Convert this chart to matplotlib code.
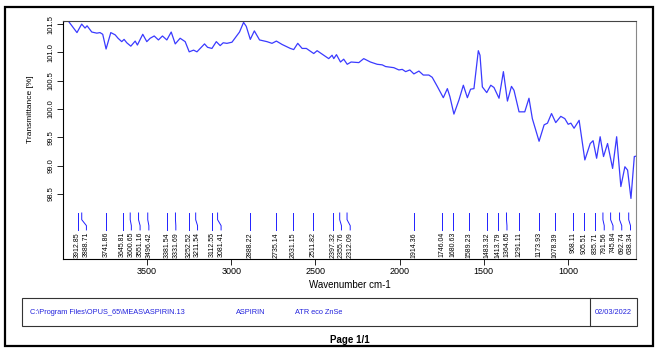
import matplotlib.pyplot as plt
from matplotlib.patches import Rectangle
from matplotlib.transforms import blended_transform_factory

plt.rcParams['font.family'] = ['Liberation Sans', 'DejaVu Sans']

# spectrum
wavenumber = [4000, 3970, 3917, 3889, 3869, 3857, 3829, 3799, 3780, 3764,
              3744, 3716, 3690, 3673, 3651, 3637, 3621, 3597, 3571, 3558,
              3526, 3502, 3482, 3458, 3433, 3409, 3383, 3357, 3333, 3304,
              3274, 3250, 3224, 3204, 3185, 3159, 3141, 3115, 3089, 3066,
              3048, 3026, 2996, 2976, 2951, 2927, 2911, 2887, 2863, 2832,
              2788, 2758, 2732, 2698, 2649, 2629, 2605, 2579, 2554, 2510,
              2490, 2441, 2421, 2401, 2391, 2375, 2351, 2332, 2311, 2288,
              2242, 2213, 2173, 2133, 2103, 2083, 2034, 2004, 1984, 1964,
              1939, 1915, 1885, 1859, 1826, 1806, 1776, 1740, 1716, 1701,
              1677, 1647, 1621, 1597, 1578, 1558, 1532, 1522, 1508, 1482,
              1458, 1439, 1409, 1383, 1359, 1335, 1320, 1290, 1256, 1231,
              1211, 1171, 1141, 1121, 1097, 1072, 1042, 1018, 998, 982,
              963, 933, 899, 867, 850, 829, 808, 788, 764, 734,
              710, 685, 661, 645, 625, 605, 590]
transmittance = [101.54, 101.56, 101.35, 101.50, 101.43, 101.47, 101.36, 101.34, 101.35, 101.32,
                 101.06, 101.35, 101.31, 101.25, 101.19, 101.23, 101.17, 101.11, 101.20, 101.13,
                 101.32, 101.19, 101.25, 101.29, 101.22, 101.29, 101.22, 101.36, 101.15, 101.25,
                 101.19, 101.01, 101.04, 101.01, 101.07, 101.15, 101.09, 101.07, 101.19, 101.12,
                 101.17, 101.16, 101.18, 101.26, 101.36, 101.53, 101.46, 101.23, 101.38, 101.22,
                 101.19, 101.16, 101.20, 101.14, 101.07, 101.05, 101.16, 101.07, 101.07, 100.98,
                 101.03, 100.93, 100.89, 100.95, 100.89, 100.96, 100.83, 100.88, 100.79, 100.83,
                 100.82, 100.89, 100.83, 100.79, 100.78, 100.75, 100.73, 100.69, 100.70, 100.66,
                 100.69, 100.62, 100.67, 100.60, 100.60, 100.56, 100.40, 100.20, 100.36, 100.22,
                 99.91, 100.16, 100.42, 100.20, 100.35, 100.36, 101.03, 100.95, 100.39, 100.29,
                 100.42, 100.38, 100.19, 100.66, 100.14, 100.40, 100.33, 99.95, 99.95, 100.19,
                 99.83, 99.43, 99.72, 99.75, 99.92, 99.76, 99.87, 99.83, 99.73, 99.75,
                 99.66, 99.80, 99.10, 99.39, 99.44, 99.13, 99.51, 99.16, 99.39, 98.95,
                 99.51, 98.63, 98.98, 98.92, 98.42, 99.16, 99.17]

peaks = [3912.85, 3888.71, 3741.86, 3645.81, 3600.65, 3551.16, 3496.42, 3381.54,
         3331.69, 3252.52, 3211.54, 3112.55, 3081.41, 2888.22, 2735.14, 2631.15,
         2511.82, 2397.32, 2355.76, 2312.09, 1914.36, 1746.04, 1680.63, 1589.23,
         1483.32, 1413.79, 1364.65, 1291.11, 1173.93, 1078.39, 968.11, 905.51,
         835.71, 791.56, 745.84, 692.74, 638.34]

xticks = [3500, 3000, 2500, 2000, 1500, 1000]
yticks = [98.5, 99.0, 99.5, 100.0, 100.5, 101.0, 101.5]

W, H = 661, 352
fig = plt.figure(figsize=(W / 100, H / 100), dpi=100)

def fx(px):
    return px / W

def fy(py):
    return 1 - py / H

ax = fig.add_axes([fx(63), fy(259), fx(636) - fx(63), fy(20.7) - fy(259)])
ax.plot(wavenumber, transmittance, color='#3a3aff', lw=0.9)
ax.set_xlim(4000, 595)
ax.set_ylim(97.35, 101.56)
ax.set_xticks(xticks)
ax.set_xticklabels([str(v) for v in xticks], fontsize=6.5)
ax.set_yticks(yticks)
ax.set_yticklabels(['%.1f' % v for v in yticks], fontsize=5.5, rotation=90, va='center')
ax.tick_params(direction='out', length=4, width=0.6, pad=2)
for s in ['left', 'bottom']:
    ax.spines[s].set_linewidth(0.8)
ax.spines['top'].set_color('#444444')
ax.spines['right'].set_color('#888888')

# peak picks with spread-out labels
tr = blended_transform_factory(ax.transData, ax.transAxes)
gap = 52
pos = []
for p in peaks:
    q = p if not pos else min(p, pos[-1] - gap)
    pos.append(q)
for p, q in zip(peaks, pos):
    ax.plot([p, p, q, q], [0.193, 0.165, 0.140, 0.122], transform=tr,
            color='#2020ff', lw=0.7, clip_on=False)
    ax.text(q, 0.113, '%.2f' % p, transform=tr, rotation=90, ha='center',
            va='top', fontsize=5)

fig.text(fx(30), fy(109), 'Transmittance [%]', rotation=90, ha='center',
         va='center', fontsize=6)
fig.text(fx(350), fy(285), 'Wavenumber cm-1', ha='center', va='center', fontsize=7)
fig.text(fx(350), fy(340), 'Page 1/1', ha='center', va='center', fontsize=7,
         fontweight='bold')

# frames
fig.add_artist(Rectangle((fx(5), fy(346)), fx(653) - fx(5), fy(7) - fy(346),
                         transform=fig.transFigure, fill=False, lw=1.6, ec='black'))
fig.add_artist(Rectangle((fx(22), fy(326)), fx(637) - fx(22), fy(298) - fy(326),
                         transform=fig.transFigure, fill=False, lw=0.8, ec='#333333'))
fig.add_artist(plt.Line2D([fx(590), fx(590)], [fy(326), fy(298)],
                          transform=fig.transFigure, lw=0.8, color='#333333'))

blue = '#2222dd'
fig.text(fx(30), fy(312), 'C:\\Program Files\\OPUS_65\\MEAS\\ASPIRIN.13', color=blue,
         fontsize=5.3, va='center')
fig.text(fx(236), fy(312), 'ASPIRIN', color=blue, fontsize=5.3, va='center')
fig.text(fx(295), fy(312), 'ATR eco ZnSe', color=blue, fontsize=5.3, va='center')
fig.text(fx(613.5), fy(312), '02/03/2022', color=blue, fontsize=5.3, va='center',
         ha='center')

fig.savefig('out.png', dpi=100)
